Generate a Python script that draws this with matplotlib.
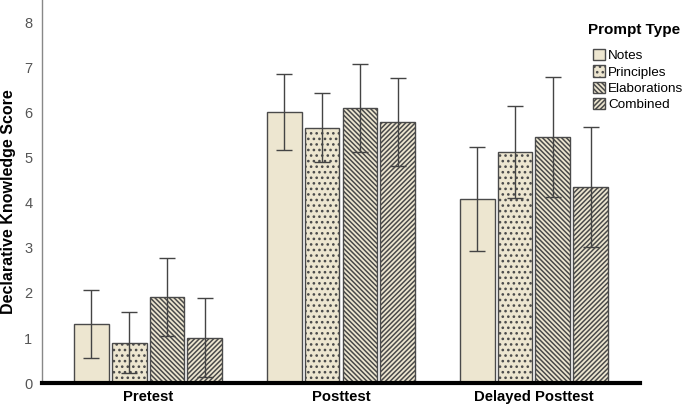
import matplotlib.pyplot as plt
import numpy as np

plt.rcParams['font.family'] = ['Liberation Sans', 'DejaVu Sans']
plt.rcParams['hatch.linewidth'] = 1.1

grupos = ["Pretest", "Posttest", "Delayed Posttest"]
tipos = ["Notes", "Principles", "Elaborations", "Combined"]

# médias
medias = {
    "Notes": [1.31, 6.01, 4.09],
    "Principles": [0.90, 5.67, 5.13],
    "Elaborations": [1.91, 6.10, 5.47],
    "Combined": [1.01, 5.79, 4.36],
}
# barras de erro
erros = {
    "Notes": [0.76, 0.84, 1.15],
    "Principles": [0.68, 0.76, 1.02],
    "Elaborations": [0.87, 0.97, 1.33],
    "Combined": [0.88, 0.97, 1.33],
}
hachuras = ["", "...", "\\\\\\\\\\\\\\", "///////"]

fig = plt.figure(figsize=(6.85, 4.05), dpi=100)
ax = fig.add_axes([0.0613, 0.054, 0.873, 0.946])

x = np.arange(len(grupos))
largura = 0.18
passo = 0.196
for i, tipo in enumerate(tipos):
    pos = x + (i - 1.5) * passo
    ax.bar(pos, medias[tipo], largura, color='#ede6d0', edgecolor='#4a4a4a',
           linewidth=1.0, hatch=hachuras[i], label=tipo, zorder=2)
    ax.errorbar(pos, medias[tipo], yerr=erros[tipo], fmt='none', ecolor='#444444',
                elinewidth=1.0, capsize=6, capthick=1.0, zorder=3)

ax.set_xlim(-0.55, 2.55)
ax.set_ylim(0, 8.5)
ax.set_yticks(range(0, 9))
ax.set_xticks(x)
ax.set_xticklabels(grupos, fontweight='bold', fontsize=10.7)
ax.tick_params(axis='y', length=0, labelsize=10.5, labelcolor='#555555', pad=7)
ax.tick_params(axis='x', length=0, pad=5)
ax.set_ylabel("Declarative Knowledge Score", fontweight='bold', fontsize=11.5)
ax.yaxis.set_label_coords(-0.043, 0.475)

for lado in ['top', 'right']:
    ax.spines[lado].set_visible(False)
ax.spines['left'].set_color('#888888')
ax.spines['left'].set_linewidth(1.0)
ax.spines['bottom'].set_color('black')
ax.spines['bottom'].set_linewidth(3)

fig.text(0.858, 0.926, "Prompt Type", fontweight='bold', fontsize=11, va='center', ha='left')
leg = fig.legend(loc='upper left', bbox_to_anchor=(0.858, 0.892),
                 frameon=False, fontsize=9.7, handlelength=0.9, handleheight=0.9,
                 handletextpad=0.2, labelspacing=0.22, borderaxespad=0)

fig.savefig("out.png", dpi=100)
